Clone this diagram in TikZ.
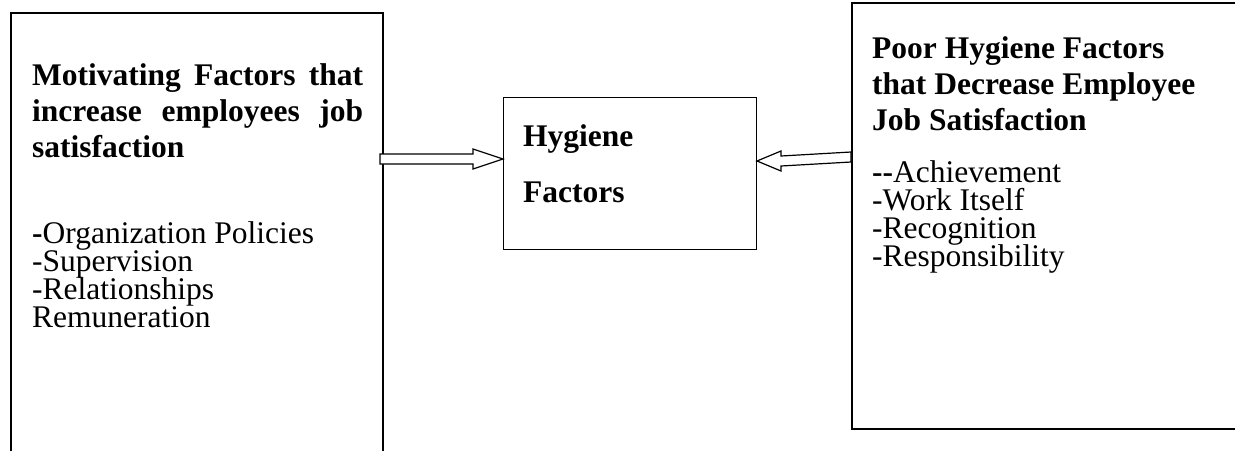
\documentclass[tikz,border=0pt]{standalone}
\usepackage{fontspec}
\setmainfont{Liberation Serif}
\usetikzlibrary{calc}
\newcommand{\linesat}[2]{\vtop{\baselineskip=#1\lineskiplimit=-100pt\lineskip=0pt #2}}
\begin{document}
\begin{tikzpicture}[x=1pt,y=1pt,
  frame/.style={line width=1.3pt},
  hd/.style={anchor=base west, inner sep=0pt, font=\fontsize{31.5}{36}\selectfont\bfseries},
  itm/.style={anchor=base west, inner sep=0pt, font=\fontsize{31.5}{28}\selectfont},
  harrow/.style={line width=1.2pt, fill=white, line join=miter}]
\useasboundingbox (0,0) rectangle (1235,-451);
% left box (open at bottom)
\coordinate (lbl) at (11,-451);
\coordinate (lbr) at (383,-451);
\draw[frame] (lbl) -- (11,-13) -- (383,-13) -- (lbr);
% right box (open at right)
\coordinate (rbt) at (1235,-3);
\coordinate (rbb) at (1235,-429);
\draw[frame] (rbt) -- (852,-3) -- (852,-429) -- (rbb);
% middle box
\node[draw, frame, minimum width=253pt, minimum height=152pt, anchor=north west, inner sep=0pt] (mid) at (503,-97) {};
% left arrow
\coordinate (la) at (380,-159);
\coordinate (lt) at (mid.west |- la);
\draw[harrow] ($(la)+(0,5)$) -- ($(lt)+(-30,5)$) -- ($(lt)+(-30,10)$) -- (lt) -- ($(lt)+(-30,-10)$) -- ($(lt)+(-30,-5)$) -- ($(la)+(0,-5)$) -- cycle;
% right arrow
\coordinate (ra) at (851,-157);
\coordinate (rt) at (757,-161);
\draw[harrow] ($(ra)+(0,5)$) -- ($(rt)+(24,5)$) -- ($(rt)+(24,10)$) -- (rt) -- ($(rt)+(24,-10)$) -- ($(rt)+(24,-5)$) -- ($(ra)+(0,-5)$) -- cycle;
% left text
\node[hd] (lhead) at (32,-85) {\linesat{36pt}{%
  \hbox to 331pt{Motivating\hfill Factors\hfill that}%
  \hbox to 331pt{increase\hfill employees\hfill job}%
  \hbox{satisfaction}}};
\node[itm] (llist) at (32,-243) {\linesat{28pt}{%
  \hbox{\textbf{-}Organization Policies}%
  \hbox{-Supervision}%
  \hbox{-Relationships}%
  \hbox{Remuneration}}};
% middle text
\node[hd] (mtext) at (523,-146) {\linesat{56pt}{\hbox{Hygiene}\hbox{Factors}}};
% right text
\node[hd] (rhead) at (872,-58) {\linesat{36pt}{%
  \hbox{Poor Hygiene Factors}%
  \hbox{that Decrease Employee}%
  \hbox{Job Satisfaction}}};
\node[itm] (rlist) at (872,-182) {\linesat{28pt}{%
  \hbox{\textbf{-{}-}Achievement}%
  \hbox{-Work Itself}%
  \hbox{-Recognition}%
  \hbox{-Responsibility}}};
\end{tikzpicture}
\end{document}
